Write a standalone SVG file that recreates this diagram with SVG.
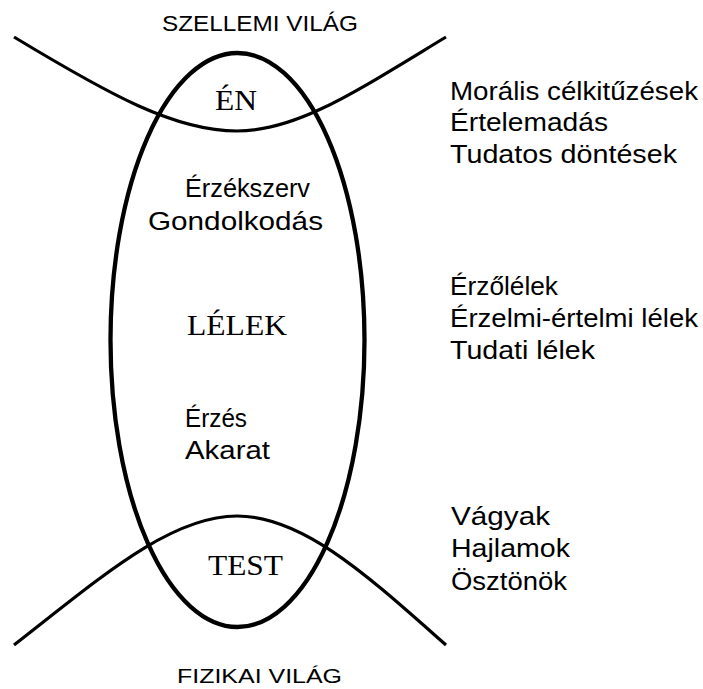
<svg xmlns="http://www.w3.org/2000/svg" width="703" height="689" viewBox="0 0 703 689">
<style>
.sans{font-family:"Liberation Sans",Arial,sans-serif;fill:#000}
.lbl{font-size:26px}
.world{font-size:22px}
.serif{font-family:"Liberation Serif","Times New Roman",serif;font-size:29px;fill:#000}
.line{fill:none;stroke:#000;stroke-width:3.2;stroke-linecap:butt}
</style>
<rect width="703" height="689" fill="#fff"/>
<g id="boundaries">
<path id="spirit-line" class="line" d="M14,37 C110,95 175,131 237,131 C297,131 355,92 446,37"/>
<path id="physical-line" class="line" d="M14,645 C100,578 170,516 237,516 C304,516 370,578 446,645"/>
</g>
<g id="human">
<ellipse cx="237.5" cy="340" rx="127" ry="287" fill="none" stroke="#000" stroke-width="4.3"/>
</g>
<g id="en">
<text class="serif" x="215" y="110" textLength="42" lengthAdjust="spacingAndGlyphs">ÉN</text>
</g>
<g id="lelek">
<text class="serif" x="187" y="335" textLength="100" lengthAdjust="spacingAndGlyphs">LÉLEK</text>
</g>
<g id="test">
<text class="serif" x="208" y="575" textLength="75" lengthAdjust="spacingAndGlyphs">TEST</text>
</g>
<g id="world-labels" class="sans world">
<text x="162" y="31" textLength="196" lengthAdjust="spacingAndGlyphs">SZELLEMI VILÁG</text>
<text x="177" y="683" font-size="21" textLength="165" lengthAdjust="spacingAndGlyphs">FIZIKAI VILÁG</text>
</g>
<g id="inner-labels" class="sans lbl">
<text x="185" y="197" textLength="125" lengthAdjust="spacingAndGlyphs">Érzékszerv</text>
<text x="148" y="230" textLength="175" lengthAdjust="spacingAndGlyphs">Gondolkodás</text>
<text x="185" y="427" textLength="62" lengthAdjust="spacingAndGlyphs">Érzés</text>
<text x="185" y="459" textLength="85" lengthAdjust="spacingAndGlyphs">Akarat</text>
</g>
<g id="right-labels" class="sans lbl">
<text x="450" y="100" textLength="248" lengthAdjust="spacingAndGlyphs">Morális célkitűzések</text>
<text x="450" y="131" textLength="158" lengthAdjust="spacingAndGlyphs">Értelemadás</text>
<text x="450" y="163" textLength="227" lengthAdjust="spacingAndGlyphs">Tudatos döntések</text>
<text x="450" y="295" textLength="108" lengthAdjust="spacingAndGlyphs">Érzőlélek</text>
<text x="450" y="327" textLength="248" lengthAdjust="spacingAndGlyphs">Érzelmi-értelmi lélek</text>
<text x="450" y="359" textLength="145" lengthAdjust="spacingAndGlyphs">Tudati lélek</text>
<text x="451" y="525" textLength="99" lengthAdjust="spacingAndGlyphs">Vágyak</text>
<text x="451" y="557" textLength="119" lengthAdjust="spacingAndGlyphs">Hajlamok</text>
<text x="451" y="590" textLength="116" lengthAdjust="spacingAndGlyphs">Ösztönök</text>
</g>
</svg>
